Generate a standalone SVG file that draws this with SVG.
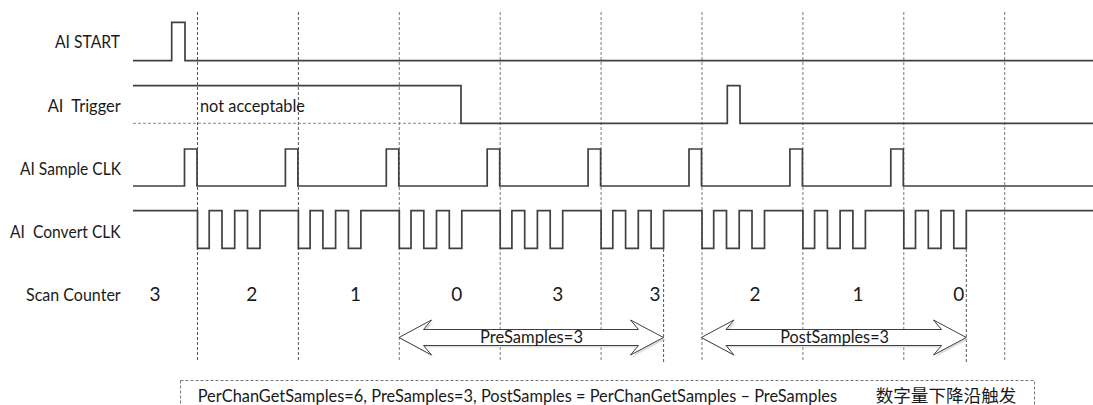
<svg xmlns="http://www.w3.org/2000/svg" width="1093" height="405" viewBox="0 0 1093 405">
<style>
  .lbl { font-family: Lato, "Liberation Sans", sans-serif; font-size: 16.5px; fill: #1a1a1a; }
  .num { font-family: Lato, "Liberation Sans", sans-serif; font-size: 19px; fill: #1a1a1a; text-anchor: middle; }
  .sig { fill: none; stroke: #404040; stroke-width: 1.7; stroke-linejoin: miter; }
  .grid { stroke: #7a7a7a; stroke-width: 1; stroke-dasharray: 3 2; fill: none; }
  .gridd { stroke: #555; stroke-width: 1; stroke-dasharray: 3 2; fill: none; }
  .arrow { fill: #ffffff; stroke: #404040; stroke-width: 1; }
  .shadow { fill: #d0d0d0; stroke: none; opacity: 0.7; }
</style>
<rect width="1093" height="405" fill="#ffffff"/>

<g id="grid">
  <line class="gridd" x1="197.5" y1="12" x2="197.5" y2="360"/>
  <line class="gridd" x1="298.4" y1="12" x2="298.4" y2="360"/>
  <line class="grid" x1="399.3" y1="12" x2="399.3" y2="360"/>
  <line class="grid" x1="500.2" y1="12" x2="500.2" y2="360"/>
  <line class="grid" x1="601.1" y1="12" x2="601.1" y2="360"/>
  <line class="grid" x1="702" y1="12" x2="702" y2="360"/>
  <line class="grid" x1="802.9" y1="12" x2="802.9" y2="360"/>
  <line class="grid" x1="903.8" y1="12" x2="903.8" y2="360"/>
  <line class="grid" x1="1004.7" y1="12" x2="1004.7" y2="360"/>
  <line class="gridd" x1="663.6" y1="249" x2="663.6" y2="362"/>
  <line class="gridd" x1="966.3" y1="249" x2="966.3" y2="362"/>
</g>

<g id="labels">
  <text class="lbl" x="55" y="48.3" textLength="65" lengthAdjust="spacingAndGlyphs">AI START</text>
  <text class="lbl" x="47.7" y="111.7" textLength="73" lengthAdjust="spacingAndGlyphs" xml:space="preserve">AI  Trigger</text>
  <text class="lbl" x="20" y="175" textLength="101" lengthAdjust="spacingAndGlyphs">AI Sample CLK</text>
  <text class="lbl" x="10" y="237.7" textLength="110.7" lengthAdjust="spacingAndGlyphs" xml:space="preserve">AI  Convert CLK</text>
  <text class="lbl" x="26" y="300.7" textLength="94.7" lengthAdjust="spacingAndGlyphs">Scan Counter</text>
</g>

<g id="ai-start">
  <path class="sig" d="M133,60.7 H171.7 V22.3 H185 V60.7 H1093"/>
</g>

<g id="ai-trigger">
  <line x1="133" y1="123.3" x2="461" y2="123.3" stroke="#8a8a8a" stroke-width="1" stroke-dasharray="3 2"/>
  <path class="sig" d="M133,85.7 H461 V123.3 H727.3 V85.7 H740 V123.3 H1093"/>
  <text class="lbl" x="200" y="111.7" textLength="105" lengthAdjust="spacingAndGlyphs">not acceptable</text>
</g>

<g id="ai-sample-clk">
  <path class="sig" d="M133,186 H184.5 V149 H197 V186 H285.4 V149 H297.9 V186 H386.3 V149 H398.8 V186 H487.2 V149 H499.7 V186 H588.1 V149 H600.6 V186 H689 V149 H701.5 V186 H789.9 V149 H802.4 V186 H890.8 V149 H903.3 V186 H1093"/>
</g>

<g id="ai-convert-clk">
  <path class="sig" d="M133,210.7 H197.5 V248.3 H209.2 V210.7 H222 V248.3 H234.7 V210.7 H247.5 V248.3 H260 V210.7
  H298.4 V248.3 H310.1 V210.7 H322.9 V248.3 H335.6 V210.7 H348.4 V248.3 H360.9 V210.7
  H399.3 V248.3 H411 V210.7 H423.8 V248.3 H436.5 V210.7 H449.3 V248.3 H461.8 V210.7
  H500.2 V248.3 H511.9 V210.7 H524.7 V248.3 H537.4 V210.7 H550.2 V248.3 H562.7 V210.7
  H601.1 V248.3 H612.8 V210.7 H625.6 V248.3 H638.3 V210.7 H651.1 V248.3 H663.6 V210.7
  H702 V248.3 H713.7 V210.7 H726.5 V248.3 H739.2 V210.7 H752 V248.3 H764.5 V210.7
  H802.9 V248.3 H814.6 V210.7 H827.4 V248.3 H840.1 V210.7 H852.9 V248.3 H865.4 V210.7
  H903.8 V248.3 H915.5 V210.7 H928.3 V248.3 H941 V210.7 H953.8 V248.3 H966.3 V210.7 H1093"/>
</g>

<g id="scan-counter">
  <text class="num" x="155" y="300.5">3</text>
  <text class="num" x="251.7" y="300.5">2</text>
  <text class="num" x="355.5" y="300.5">1</text>
  <text class="num" x="456.7" y="300.5">0</text>
  <text class="num" x="557.7" y="300.5">3</text>
  <text class="num" x="655" y="300.5">3</text>
  <text class="num" x="755" y="300.5">2</text>
  <text class="num" x="858" y="300.5">1</text>
  <text class="num" x="958.7" y="300.5">0</text>
</g>

<g id="connectors">
  <g id="presamples-arrow">
    <polygon class="shadow" points="401,339.5 433.5,322 425.5,331.5 640.5,331.5 632.5,322 665.5,339.5 632.5,357 640.5,347.5 425.5,347.5 433.5,357"/>
    <polygon class="arrow" points="399,337.5 431.5,320 423.5,329.5 638.5,329.5 630.5,320 663.5,337.5 630.5,355 638.5,345.5 423.5,345.5 431.5,355"/>
    <text class="lbl" x="531.5" y="342.7" text-anchor="middle" textLength="103" lengthAdjust="spacingAndGlyphs">PreSamples=3</text>
  </g>
  <g id="postsamples-arrow">
    <polygon class="shadow" points="703.3,339.5 736,322 728,331.5 943.5,331.5 935.5,322 968.3,339.5 935.5,357 943.5,347.5 728,347.5 736,357"/>
    <polygon class="arrow" points="701.3,337.5 734,320 726,329.5 941.5,329.5 933.5,320 966.3,337.5 933.5,355 941.5,345.5 726,345.5 734,355"/>
    <text class="lbl" x="834.6" y="342.7" text-anchor="middle" textLength="108.7" lengthAdjust="spacingAndGlyphs">PostSamples=3</text>
  </g>
</g>

<g id="note">
  <rect x="180.5" y="380.5" width="854" height="40" fill="none" stroke="#7a7a7a" stroke-width="1" stroke-dasharray="3 2"/>
  <text class="lbl" x="197.7" y="401.5" textLength="639.3" lengthAdjust="spacingAndGlyphs">PerChanGetSamples=6, PreSamples=3, PostSamples = PerChanGetSamples – PreSamples</text>
  <text x="875.7" y="401.5" font-family="'Noto Sans CJK SC', sans-serif" font-size="17.5" fill="#1a1a1a" textLength="140.6" lengthAdjust="spacingAndGlyphs">数字量下降沿触发</text>
</g>
</svg>
